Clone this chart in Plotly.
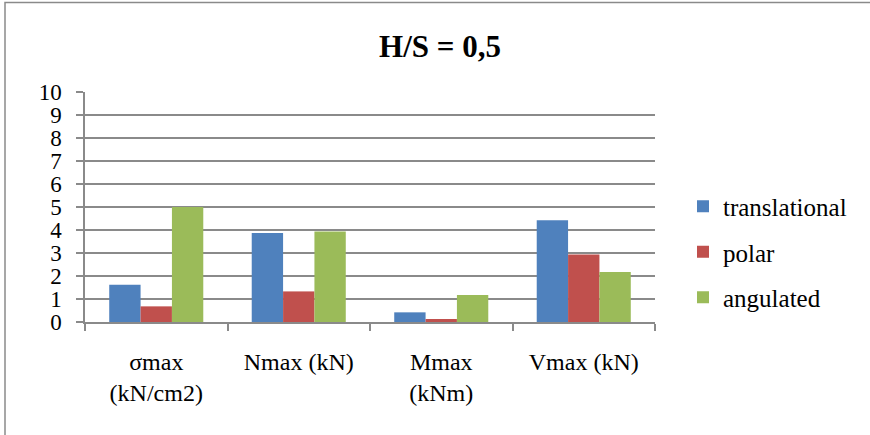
import plotly.graph_objects as go

categories = ["σmax<br>(kN/cm2)", "Nmax (kN)", "Mmax<br>(kNm)", "Vmax (kN)"]
translational = [1.62, 3.87, 0.42, 4.42]
polar = [0.68, 1.33, 0.13, 2.93]
angulated = [5.0, 3.93, 1.17, 2.17]
series_names = ["translational", "polar", "angulated"]
colors = ["#4F81BD", "#C0504D", "#9BBB59"]

W, H = 870, 435
L, R, T, B = 85, 215, 92, 113
pw, ph = W - L - R, H - T - B

FAM = "Liberation Serif"

fig = go.Figure()
for name, vals, c in zip(series_names, [translational, polar, angulated], colors):
    fig.add_trace(go.Bar(x=categories, y=vals, name=name, marker_color=c,
                         marker_line_width=0, legendgroup=name))

axcol = "#8a8a8a"

fig.update_layout(
    width=W, height=H,
    margin=dict(l=L, r=R, t=T, b=B, autoexpand=False),
    paper_bgcolor="white", plot_bgcolor="white",
    font=dict(family=FAM, size=24, color="black"),
    barmode="group", bargap=0.34, bargroupgap=0,
    title=dict(text="<b>H/S = 0,5</b>", x=440 / W, xanchor="center",
               y=1 - 46 / H, yanchor="middle",
               font=dict(family=FAM, size=31, color="black")),
    legend=dict(x=(683 - L) / pw, y=(322 - 252) / ph, xanchor="left", yanchor="middle",
                font=dict(family=FAM, size=25, color="black"),
                tracegroupgap=10, itemwidth=30,
                bgcolor="rgba(0,0,0,0)"),
    showlegend=True,
)
fig.update_yaxes(range=[0, 10], dtick=1, showgrid=True, gridcolor=axcol, gridwidth=1.5,
                 showline=True, linecolor=axcol, linewidth=1.5,
                 ticks="outside", ticklen=7, tickcolor=axcol, tickwidth=1.5,
                 ticklabelstandoff=10, zeroline=False, fixedrange=True,
                 tickfont=dict(family=FAM, size=23, color="black"))
fig.update_xaxes(showline=True, linecolor=axcol, linewidth=1.5,
                 ticks="outside", tickson="boundaries", ticklen=7, tickcolor=axcol,
                 tickwidth=1.5, ticklabelstandoff=17, showgrid=False, fixedrange=True,
                 tickfont=dict(family=FAM, size=24, color="black"))

# outer chart border
fig.add_shape(type="rect", xref="paper", yref="paper",
              x0=(5 - L) / pw, x1=(880 - L) / pw,
              y0=(322 - 445) / ph, y1=1 + (T - 2.5) / ph,
              line=dict(color="#8a8a8a", width=1.5), layer="below")

fig.write_html("out.html", config={"displayModeBar": False},
               post_script="document.body.style.margin='0';")
